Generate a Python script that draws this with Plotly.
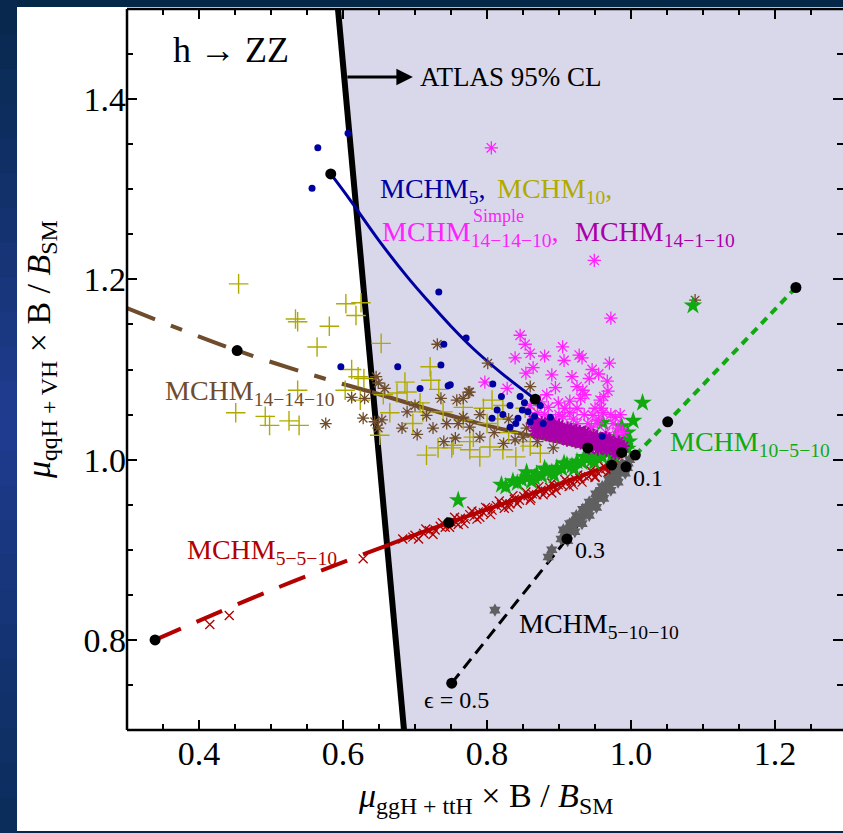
import plotly.graph_objects as go

# ---------------- data ----------------
# MCHM_5 scan points (blue dots) and its epsilon curve
mchm5_pts = [(0.565, 1.346), (0.557, 1.301), (0.607, 1.362), (0.733, 1.186), (0.771, 1.135),
             (0.740, 1.128), (0.597, 1.103), (0.676, 1.103), (0.736, 1.105), (0.707, 1.079),
             (0.746, 1.082), (0.749, 1.083), (0.808, 1.084), (0.846, 1.070), (0.832, 1.060),
             (0.849, 1.055), (0.857, 1.053), (0.843, 1.046), (0.832, 1.036), (0.860, 1.042),
             (0.878, 1.040), (0.888, 1.047), (0.874, 1.060), (0.814, 1.055), (0.807, 1.046),
             (0.960, 1.026), (0.820, 1.070), (0.852, 1.063), (0.866, 1.048), (0.840, 1.040),
             (0.822, 1.050)]
mchm5_curve = [(0.583, 1.317), (0.610, 1.288), (0.650, 1.243), (0.689, 1.203), (0.717, 1.177),
               (0.750, 1.148), (0.781, 1.123), (0.820, 1.096), (0.867, 1.067)]

# MCHM_10 (olive crosses)
mchm10_pts = [(0.455, 1.195), (0.604, 1.173), (0.625, 1.174), (0.618, 1.160), (0.534, 1.156),
              (0.537, 1.153), (0.581, 1.148), (0.564, 1.125), (0.653, 1.129), (0.612, 1.100),
              (0.621, 1.092), (0.629, 1.090), (0.603, 1.077), (0.537, 1.077), (0.451, 1.052),
              (0.492, 1.048), (0.498, 1.038), (0.525, 1.043), (0.539, 1.038), (0.624, 1.066),
              (0.651, 1.027), (0.686, 1.086), (0.721, 1.103), (0.722, 1.088), (0.733, 1.078),
              (0.665, 1.052), (0.697, 1.040), (0.716, 1.005), (0.732, 1.013), (0.751, 1.013),
              (0.776, 1.011), (0.776, 1.020), (0.781, 1.025), (0.711, 1.053), (0.739, 1.053),
              (0.767, 1.058), (0.656, 1.072), (0.675, 1.074), (0.689, 1.075), (0.707, 1.063),
              (0.753, 1.016), (0.790, 1.003), (0.804, 1.014), (0.822, 1.011), (0.840, 1.003),
              (0.807, 1.066), (0.822, 1.060), (0.795, 1.057), (0.767, 1.044), (0.853, 1.057),
              (0.874, 1.007), (0.800, 1.040), (0.830, 1.030), (0.815, 1.045), (0.850, 1.020),
              (0.860, 1.015)]

# MCHM^Simple_14-14-10 (magenta asterisks)
simple_pts = [(0.806, 1.346), (0.949, 1.221), (0.839, 1.113), (0.864, 1.102), (0.854, 1.096),
              (0.890, 1.094), (0.907, 1.110), (0.928, 1.116), (0.932, 1.113), (0.946, 1.100),
              (0.970, 1.107), (0.967, 1.087), (0.968, 1.076), (0.797, 1.086), (0.828, 1.079),
              (0.925, 1.081), (0.933, 1.077), (0.936, 1.072), (0.899, 1.063), (0.908, 1.057),
              (0.957, 1.066), (0.959, 1.057), (0.950, 1.057), (0.925, 1.057), (0.947, 1.049),
              (0.953, 1.040), (0.980, 1.027), (0.883, 1.072), (0.874, 1.064), (0.860, 1.060),
              (0.972, 1.157), (0.962, 1.070), (0.961, 1.052), (0.978, 1.047), (0.982, 1.035),
              (0.975, 1.040), (0.940, 1.040), (0.920, 1.045), (0.900, 1.050), (0.880, 1.050),
              (0.865, 1.045), (0.890, 1.040), (0.910, 1.035), (0.985, 1.050), (0.870, 1.052),
              (0.885, 1.058), (0.895, 1.045), (0.905, 1.048), (0.915, 1.052), (0.925, 1.040),
              (0.935, 1.050), (0.945, 1.036), (0.955, 1.045), (0.965, 1.030), (0.972, 1.050),
              (0.988, 1.030), (0.915, 1.065), (0.930, 1.068), (0.942, 1.090), (0.918, 1.092),
              (0.895, 1.080), (0.955, 1.095), (0.880, 1.115), (0.905, 1.125), (0.846, 1.138),
              (0.853, 1.128), (0.860, 1.118)]

# MCHM_14-1-10 (purple, dense band)
mchm1411_pts = [(0.872, 1.036), (0.878, 1.031), (0.884, 1.035), (0.890, 1.030), (0.896, 1.033),
                (0.902, 1.027), (0.908, 1.031), (0.914, 1.025), (0.920, 1.029), (0.926, 1.023),
                (0.932, 1.027), (0.938, 1.021), (0.944, 1.025), (0.950, 1.019), (0.956, 1.022),
                (0.962, 1.017), (0.968, 1.020), (0.974, 1.015), (0.980, 1.017), (0.986, 1.013),
                (0.990, 1.015), (0.881, 1.040), (0.899, 1.037), (0.917, 1.034), (0.935, 1.030),
                (0.953, 1.026), (0.971, 1.022), (0.887, 1.026), (0.905, 1.023), (0.923, 1.019),
                (0.941, 1.016), (0.959, 1.013), (0.977, 1.010), (0.893, 1.038), (0.911, 1.021),
                (0.929, 1.032), (0.947, 1.014), (0.965, 1.025), (0.983, 1.020), (0.862, 1.040),
                (0.866, 1.032), (0.864, 1.044), (0.870, 1.028), (0.876, 1.042), (0.882, 1.027),
                (0.888, 1.041), (0.894, 1.025), (0.900, 1.039), (0.906, 1.028), (0.912, 1.036),
                (0.918, 1.022), (0.924, 1.033), (0.930, 1.018), (0.936, 1.031), (0.942, 1.012),
                (0.948, 1.028), (0.954, 1.011), (0.960, 1.024), (0.966, 1.010), (0.972, 1.019),
                (0.978, 1.006), (0.984, 1.016), (0.988, 1.009), (0.875, 1.036), (0.895, 1.030),
                (0.915, 1.027), (0.935, 1.024), (0.955, 1.018), (0.975, 1.012), (0.885, 1.033),
                (0.905, 1.034), (0.925, 1.026), (0.945, 1.020), (0.965, 1.015), (0.985, 1.011),
                (0.870, 1.038), (0.890, 1.035), (0.910, 1.030), (0.930, 1.025), (0.950, 1.022),
                (0.970, 1.017)]

# MCHM_14-14-10 (brown asterisks) and its curve
mchm141410_pts = [(0.731, 1.128), (0.646, 1.092), (0.649, 1.085), (0.658, 1.079), (0.630, 1.068),
                  (0.612, 1.069), (0.576, 1.040), (0.628, 1.046), (0.644, 1.042), (0.654, 1.044),
                  (0.649, 1.035), (0.682, 1.035), (0.703, 1.028), (0.725, 1.035), (0.736, 1.068),
                  (0.689, 1.053), (0.716, 1.049), (0.744, 1.040), (0.760, 1.040), (0.758, 1.066),
                  (0.767, 1.068), (0.776, 1.075), (0.756, 1.024), (0.776, 1.036), (0.801, 1.107),
                  (0.774, 1.075), (0.767, 1.047), (0.823, 1.018), (0.839, 1.022), (0.860, 1.081),
                  (0.855, 1.035), (0.892, 1.013), (0.943, 1.033), (1.089, 1.177), (0.790, 1.050),
                  (0.810, 1.030), (0.830, 1.045), (0.850, 1.025), (0.870, 1.020), (0.790, 1.025),
                  (0.740, 1.020), (0.700, 1.060)]
mchm141410_curve_excl = [(0.300, 1.168), (0.453, 1.121), (0.578, 1.089), (0.640, 1.075)]
mchm141410_curve_allow = [(0.640, 1.075), (0.790, 1.040), (0.940, 1.013)]

# MCHM_5-5-10 (red crosses) and its curve
mchm5510_pts = [(0.415, 0.817), (0.442, 0.827), (0.628, 0.890), (0.683, 0.912), (0.697, 0.914),
                (0.700, 0.916), (0.712, 0.918), (0.720, 0.921), (0.728, 0.922), (0.735, 0.926),
                (0.742, 0.925), (0.750, 0.931), (0.757, 0.930), (0.763, 0.935), (0.770, 0.934),
                (0.776, 0.939), (0.782, 0.937), (0.788, 0.942), (0.795, 0.941), (0.801, 0.946),
                (0.807, 0.944), (0.813, 0.949), (0.820, 0.950), (0.826, 0.952), (0.832, 0.951),
                (0.838, 0.956), (0.845, 0.955), (0.851, 0.959), (0.857, 0.960), (0.863, 0.962),
                (0.869, 0.961), (0.875, 0.966), (0.881, 0.965), (0.887, 0.969), (0.893, 0.970),
                (0.899, 0.972), (0.905, 0.971), (0.911, 0.975), (0.917, 0.976), (0.923, 0.978),
                (0.929, 0.979), (0.935, 0.982), (0.941, 0.981), (0.947, 0.985), (0.953, 0.986),
                (0.959, 0.988), (0.965, 0.990), (0.971, 0.992), (0.977, 0.994), (0.983, 0.996),
                (0.760, 0.928), (0.790, 0.936), (0.830, 0.947), (0.860, 0.955), (0.890, 0.963),
                (0.920, 0.972), (0.950, 0.980), (0.970, 0.986), (0.705, 0.912), (0.715, 0.923),
                (0.725, 0.917), (0.738, 0.930), (0.748, 0.925), (0.755, 0.936), (0.768, 0.929),
                (0.779, 0.943), (0.786, 0.934), (0.798, 0.947), (0.805, 0.939), (0.817, 0.954),
                (0.824, 0.946), (0.836, 0.960), (0.842, 0.951), (0.854, 0.964), (0.861, 0.957),
                (0.872, 0.970), (0.878, 0.961), (0.890, 0.974), (0.896, 0.966), (0.908, 0.978),
                (0.914, 0.970), (0.926, 0.983), (0.932, 0.975), (0.944, 0.988), (0.950, 0.981),
                (0.962, 0.993), (0.968, 0.986), (0.980, 0.998), (0.975, 0.989), (0.985, 0.992)]
mchm5510_curve_excl = [(0.339, 0.800), (0.500, 0.855), (0.665, 0.906)]
mchm5510_curve_allow = [(0.665, 0.906), (0.747, 0.930), (0.880, 0.967), (0.975, 0.995)]

# MCHM_10-5-10 (green stars) and its curve
mchm10510_pts = [(0.820, 0.972), (0.836, 0.976), (0.848, 0.978), (0.856, 0.980), (0.862, 0.976),
                 (0.869, 0.984), (0.876, 0.982), (0.883, 0.987), (0.890, 0.986), (0.897, 0.991),
                 (0.904, 0.990), (0.911, 0.994), (0.918, 0.993), (0.925, 0.998), (0.932, 0.997),
                 (0.939, 1.001), (0.946, 1.000), (0.953, 1.004), (0.960, 1.003), (0.967, 1.007),
                 (0.974, 1.006), (0.981, 1.010), (0.988, 1.009), (0.995, 1.012), (0.970, 1.012),
                 (0.985, 1.015), (0.990, 1.022), (0.995, 1.030), (0.978, 1.025), (0.961, 1.041),
                 (0.987, 1.037), (1.003, 1.043), (1.016, 1.063), (0.760, 0.955), (1.086, 1.171),
                 (0.950, 1.020), (0.826, 0.970), (0.842, 0.974), (0.855, 0.986), (0.866, 0.980),
                 (0.880, 0.990), (0.893, 0.983), (0.907, 0.996), (0.921, 0.990), (0.935, 1.003),
                 (0.949, 0.997), (0.963, 1.010), (0.977, 1.003), (0.991, 1.015), (0.958, 1.015),
                 (0.975, 1.018), (0.997, 1.020)]
mchm10510_curve = [(1.006, 1.005), (1.051, 1.042), (1.229, 1.191)]

# MCHM_5-10-10 (grey stars) and its epsilon line
mchm51010_pts = [(0.903, 0.912), (0.908, 0.918), (0.913, 0.921), (0.917, 0.926), (0.922, 0.929),
                 (0.926, 0.934), (0.931, 0.937), (0.935, 0.941), (0.940, 0.945), (0.944, 0.949),
                 (0.948, 0.952), (0.952, 0.957), (0.956, 0.960), (0.960, 0.964), (0.964, 0.967),
                 (0.968, 0.971), (0.972, 0.975), (0.976, 0.978), (0.980, 0.982), (0.984, 0.986),
                 (0.988, 0.989), (0.992, 0.993), (0.996, 0.996), (0.910, 0.914), (0.920, 0.925),
                 (0.930, 0.933), (0.940, 0.942), (0.950, 0.952), (0.960, 0.961), (0.970, 0.970),
                 (0.980, 0.979), (0.990, 0.988), (0.925, 0.933), (0.945, 0.951), (0.965, 0.970),
                 (0.985, 0.990), (0.811, 0.833), (0.885, 0.892), (0.890, 0.900), (0.906, 0.922),
                 (0.915, 0.929), (0.924, 0.938), (0.933, 0.945), (0.942, 0.953), (0.951, 0.962),
                 (0.960, 0.970), (0.969, 0.978), (0.978, 0.986), (0.987, 0.995), (0.912, 0.910),
                 (0.922, 0.920), (0.932, 0.929), (0.942, 0.938), (0.952, 0.947), (0.962, 0.957),
                 (0.972, 0.966), (0.982, 0.975), (0.992, 0.985), (0.998, 1.000), (0.918, 0.930),
                 (0.938, 0.947), (0.958, 0.966), (0.978, 0.984), (0.995, 0.991)]
mchm51010_curve = [(0.751, 0.752), (0.911, 0.912), (0.992, 0.993)]

# benchmark points (black dots)
bench_pts = [(0.583, 1.317), (0.867, 1.067), (0.453, 1.121), (0.339, 0.800), (0.747, 0.930),
             (0.751, 0.752), (0.911, 0.912), (1.051, 1.042), (1.229, 1.191), (0.940, 1.013),
             (0.973, 0.994), (0.993, 0.992), (0.987, 1.008), (1.006, 1.005)]

# ATLAS 95% CL boundary
atlas_x = [0.593, 0.6847]
atlas_y = [1.5, 0.7]

# epsilon labels on the MCHM_5-10-10 line
eps_labels = [("0.1", 1.0236, 0.9798), ("0.3", 0.943, 0.8999), ("\u03f5 = 0.5", 0.758, 0.7335)]

FONT = "Liberation Serif"
BLUE = "#0000a0"
OLIVE = "#b0aa00"
MAGENTA = "#ff22ff"
PURPLE = "#aa00aa"
BROWN = "#6e4c2c"
RED = "#b30000"
GREEN = "#10aa10"
GREY = "#606060"


def xs(pts):
    return [p[0] for p in pts]


def ys(pts):
    return [p[1] for p in pts]


fig = go.Figure()

# curves
fig.add_trace(go.Scatter(x=xs(mchm5_curve), y=ys(mchm5_curve), mode="lines",
                         line=dict(color=BLUE, width=3, shape="spline")))
fig.add_trace(go.Scatter(x=xs(mchm141410_curve_excl), y=ys(mchm141410_curve_excl), mode="lines",
                         line=dict(color=BROWN, width=4, dash="30px,17px,12px,17px", shape="spline")))
fig.add_trace(go.Scatter(x=xs(mchm141410_curve_allow), y=ys(mchm141410_curve_allow), mode="lines",
                         line=dict(color=BROWN, width=4, shape="spline")))
fig.add_trace(go.Scatter(x=xs(mchm5510_curve_excl), y=ys(mchm5510_curve_excl), mode="lines",
                         line=dict(color=RED, width=4, dash="28px,17px", shape="spline")))
fig.add_trace(go.Scatter(x=xs(mchm5510_curve_allow), y=ys(mchm5510_curve_allow), mode="lines",
                         line=dict(color=RED, width=4, shape="spline")))
fig.add_trace(go.Scatter(x=xs(mchm10510_curve), y=ys(mchm10510_curve), mode="lines",
                         line=dict(color=GREEN, width=4, dash="8px,6px")))
fig.add_trace(go.Scatter(x=xs(mchm51010_curve), y=ys(mchm51010_curve), mode="lines",
                         line=dict(color="black", width=3, dash="12px,7px")))

# scan points
fig.add_trace(go.Scatter(x=xs(mchm10_pts), y=ys(mchm10_pts), mode="markers",
                         marker=dict(symbol="cross-thin-open", size=14, color=OLIVE,
                                     line=dict(color=OLIVE, width=1.4))))
fig.add_trace(go.Scatter(x=xs(mchm141410_pts), y=ys(mchm141410_pts), mode="markers",
                         marker=dict(symbol="asterisk-open", size=10, color=BROWN,
                                     line=dict(color=BROWN, width=1.3))))
fig.add_trace(go.Scatter(x=xs(mchm5510_pts), y=ys(mchm5510_pts), mode="markers",
                         marker=dict(symbol="x-thin-open", size=9, color=RED,
                                     line=dict(color=RED, width=1.3))))
fig.add_trace(go.Scatter(x=xs(mchm10510_pts), y=ys(mchm10510_pts), mode="markers",
                         marker=dict(symbol="star", size=14, color=GREEN, line=dict(width=0))))
fig.add_trace(go.Scatter(x=xs(mchm51010_pts), y=ys(mchm51010_pts), mode="markers",
                         marker=dict(symbol="hexagram", size=10, color=GREY, line=dict(width=0))))
fig.add_trace(go.Scatter(x=xs(simple_pts), y=ys(simple_pts), mode="markers",
                         marker=dict(symbol="asterisk-open", size=11, color=MAGENTA,
                                     line=dict(color=MAGENTA, width=1.3))))
fig.add_trace(go.Scatter(x=xs(mchm1411_pts), y=ys(mchm1411_pts), mode="markers",
                         marker=dict(symbol="asterisk-open", size=10, color=PURPLE,
                                     line=dict(color=PURPLE, width=2))))
fig.add_trace(go.Scatter(x=xs(mchm5_pts), y=ys(mchm5_pts), mode="markers",
                         marker=dict(symbol="circle", size=7, color=BLUE, line=dict(width=0))))
fig.add_trace(go.Scatter(x=xs(bench_pts), y=ys(bench_pts), mode="markers",
                         marker=dict(symbol="circle", size=11, color="black", line=dict(width=0))))

# ---------------- background, allowed region, frame ----------------
shapes = []
# page panel with blue surround
shapes.append(dict(type="rect", xref="paper", yref="paper", x0=-0.1536, x1=1.02, y0=-0.1401,
                   y1=1.0028, fillcolor="white", line=dict(width=0), layer="below"))
stops = [(0, (8, 40, 75)), (420, (32, 60, 145)), (833, (10, 45, 90))]
n_band = 24
for i in range(n_band):
    py0 = 833 * i / n_band
    py1 = 833 * (i + 1) / n_band
    pm = (py0 + py1) / 2
    if pm <= stops[1][0]:
        t = pm / stops[1][0]
        c0, c1 = stops[0][1], stops[1][1]
    else:
        t = (pm - stops[1][0]) / (stops[2][0] - stops[1][0])
        c0, c1 = stops[1][1], stops[2][1]
    col = tuple(int(c0[k] + (c1[k] - c0[k]) * t) for k in range(3))
    shapes.append(dict(type="rect", xref="paper", yref="paper",
                       x0=-0.18, x1=-0.1536,
                       y0=(730 - py1) / 721, y1=(730 - py0) / 721 + 0.001,
                       fillcolor="rgb(%d,%d,%d)" % col, line=dict(width=0), layer="below"))

# region allowed by ATLAS
shapes.append(dict(type="path", xref="x", yref="y",
                   path="M %g,%g L %g,%g L 1.4,0.7 L 1.4,1.5 Z" % (atlas_x[0], atlas_y[0], atlas_x[1], atlas_y[1]),
                   fillcolor="#d9d8ea", line=dict(width=0), layer="below"))
# ATLAS boundary line
shapes.append(dict(type="line", xref="x", yref="y", x0=atlas_x[0], y0=atlas_y[0],
                   x1=atlas_x[1], y1=atlas_y[1], line=dict(color="black", width=6), layer="below"))
# frame: left, bottom, top
for x0, y0, x1, y1 in [(0, 0, 0, 1), (0, 0, 1, 0), (0, 1, 1, 1)]:
    shapes.append(dict(type="line", xref="paper", yref="paper", x0=x0, y0=y0, x1=x1, y1=y1,
                       line=dict(color="black", width=2.5)))

# ---------------- annotations ----------------
ann = []


def label(text, x, y, color, size=28, xanchor="left"):
    ann.append(dict(text=text, x=x, y=y, xref="x", yref="y", showarrow=False,
                    xanchor=xanchor, yanchor="middle", font=dict(family=FONT, size=size, color=color)))


label("h \u2192 ZZ", 0.4444, 1.4545, "black", size=36, xanchor="center")
label("ATLAS 95% CL", 0.704, 1.4246, "black", size=27)
ann.append(dict(x=0.697, y=1.4246, ax=0.604, ay=1.4246, xref="x", yref="y", axref="x", ayref="y",
                text="", showarrow=True, arrowhead=2, arrowsize=1.1, arrowwidth=3, arrowcolor="black"))
label("MCHM<sub>5</sub>,", 0.6486, 1.299, BLUE)
label("MCHM<sub>10</sub>,", 0.811, 1.299, OLIVE)
label("MCHM<sub>14\u221214\u221210</sub>,", 0.651, 1.251, MAGENTA)
label("Simple", 0.778, 1.2705, MAGENTA, size=18)
label("MCHM<sub>14\u22121\u221210</sub>", 0.919, 1.251, PURPLE)
label("MCHM<sub>14\u221214\u221210</sub>", 0.350, 1.075, BROWN)
label("MCHM<sub>5\u22125\u221210</sub>", 0.3806, 0.898, RED)
label("MCHM<sub>10\u22125\u221210</sub>", 1.0514, 1.018, GREEN)
label("MCHM<sub>5\u221210\u221210</sub>", 0.8417, 0.816, "black")
for txt, x, y in eps_labels:
    label(txt, x, y, "black", size=24, xanchor="center")

# axis titles
ann.append(dict(text="<i>\u03bc</i><sub>ggH + ttH</sub> \u00d7 B / <i>B</i><sub>SM</sub>",
                x=0.5, y=-0.095, xref="paper", yref="paper", showarrow=False,
                xanchor="center", yanchor="middle", font=dict(family=FONT, size=34, color="black")))
ann.append(dict(text="<i>\u03bc</i><sub>qqH + VH</sub> \u00d7 B / <i>B</i><sub>SM</sub>",
                x=-0.12, y=0.527, xref="paper", yref="paper", showarrow=False, textangle=-90,
                xanchor="center", yanchor="middle", font=dict(family=FONT, size=34, color="black")))

axis_common = dict(showgrid=False, zeroline=False, showline=False, ticks="inside", ticklen=10,
                   tickwidth=2, tickcolor="black", mirror="ticks", tick0=0, dtick=0.2,
                   tickformat=".1f", tickfont=dict(family=FONT, size=34, color="black"),
                   minor=dict(ticks="inside", ticklen=6, tickwidth=2, tickcolor="black",
                              dtick=0.05, tick0=0, showgrid=False))

fig.update_layout(
    width=843, height=833,
    margin=dict(l=127, r=0, t=9, b=103, pad=0),
    paper_bgcolor="rgb(6,40,72)",
    plot_bgcolor="white",
    showlegend=False,
    xaxis=dict(range=[0.3, 1.2944], **axis_common),
    yaxis=dict(range=[0.7, 1.5], **axis_common),
    shapes=shapes,
    annotations=ann,
)

fig.write_html("out.html")
